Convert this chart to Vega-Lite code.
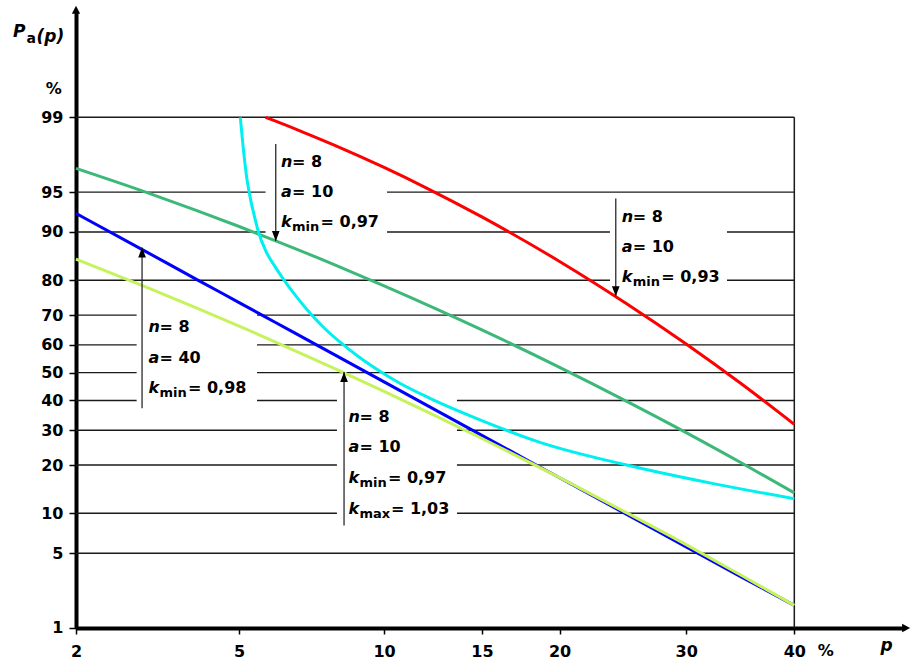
{
  "$schema": "https://vega.github.io/schema/vega-lite/v6.json",
  "width": 829,
  "height": 616,
  "autosize": "none",
  "padding": {"left": 76, "top": 12, "right": 6, "bottom": 32},
  "background": "white",
  "config": {
    "view": {"stroke": null},
    "font": "DejaVu Sans",
    "axis": {
      "title": null,
      "grid": false,
      "domainColor": "black",
      "domainWidth": 4,
      "domainCap": "butt",
      "tickColor": "black",
      "tickWidth": 1.5,
      "labelFont": "DejaVu Sans",
      "labelFontSize": 16,
      "labelFontWeight": "bold",
      "labelColor": "black",
      "labelFlush": false,
      "labelOverlap": false,
      "zindex": 1
    }
  },
  "data": {
    "values": [
      {"k": "g", "P": 99, "p": 2, "p2": 40},
      {"k": "g", "P": 95, "p": 2, "p2": 5.72},
      {"k": "g", "P": 95, "p": 10.13, "p2": 40},
      {"k": "g", "P": 90, "p": 2, "p2": 5.72},
      {"k": "g", "P": 90, "p": 10.13, "p2": 23.72},
      {"k": "g", "P": 90, "p": 33.65, "p2": 40},
      {"k": "g", "P": 80, "p": 2, "p2": 23.72},
      {"k": "g", "P": 80, "p": 33.65, "p2": 40},
      {"k": "g", "P": 70, "p": 2, "p2": 2.86},
      {"k": "g", "P": 70, "p": 5.48, "p2": 40},
      {"k": "g", "P": 60, "p": 2, "p2": 2.86},
      {"k": "g", "P": 60, "p": 5.48, "p2": 40},
      {"k": "g", "P": 50, "p": 2, "p2": 2.86},
      {"k": "g", "P": 50, "p": 5.48, "p2": 40},
      {"k": "g", "P": 40, "p": 2, "p2": 2.86},
      {"k": "g", "P": 40, "p": 5.48, "p2": 8.08},
      {"k": "g", "P": 40, "p": 13.59, "p2": 40},
      {"k": "g", "P": 30, "p": 2, "p2": 8.08},
      {"k": "g", "P": 30, "p": 13.59, "p2": 40},
      {"k": "g", "P": 20, "p": 2, "p2": 8.08},
      {"k": "g", "P": 20, "p": 13.59, "p2": 40},
      {"k": "g", "P": 10, "p": 2, "p2": 8.08},
      {"k": "g", "P": 10, "p": 13.59, "p2": 40},
      {"k": "g", "P": 5, "p": 2, "p2": 40},
      {"k": "b", "p": 40, "P": 1, "P2": 99},

      {"k": "c", "s": "red", "p": 5.72, "P": 99},
      {"k": "c", "s": "red", "p": 6, "P": 98.91},
      {"k": "c", "s": "red", "p": 7, "P": 98.53},
      {"k": "c", "s": "red", "p": 8, "P": 98.08},
      {"k": "c", "s": "red", "p": 10, "P": 96.92},
      {"k": "c", "s": "red", "p": 12, "P": 95.37},
      {"k": "c", "s": "red", "p": 15, "P": 92.2},
      {"k": "c", "s": "red", "p": 20, "P": 84.45},
      {"k": "c", "s": "red", "p": 25, "P": 73.57},
      {"k": "c", "s": "red", "p": 30, "P": 60.29},
      {"k": "c", "s": "red", "p": 35, "P": 45.86},
      {"k": "c", "s": "red", "p": 40, "P": 31.86},

      {"k": "c", "s": "green", "p": 2, "P": 96.86},
      {"k": "c", "s": "green", "p": 3, "P": 95.02},
      {"k": "c", "s": "green", "p": 4, "P": 93.01},
      {"k": "c", "s": "green", "p": 5, "P": 90.85},
      {"k": "c", "s": "green", "p": 6, "P": 88.56},
      {"k": "c", "s": "green", "p": 8, "P": 83.7},
      {"k": "c", "s": "green", "p": 10, "P": 78.54},
      {"k": "c", "s": "green", "p": 15, "P": 65.15},
      {"k": "c", "s": "green", "p": 20, "P": 51.93},
      {"k": "c", "s": "green", "p": 25, "P": 39.78},
      {"k": "c", "s": "green", "p": 30, "P": 29.25},
      {"k": "c", "s": "green", "p": 35, "P": 20.51},
      {"k": "c", "s": "green", "p": 40, "P": 13.67},

      {"k": "c", "s": "cyan", "p": 5.03, "P": 99},
      {"k": "c", "s": "cyan", "p": 5.1, "P": 98.09},
      {"k": "c", "s": "cyan", "p": 5.19, "P": 96.41},
      {"k": "c", "s": "cyan", "p": 5.29, "P": 94.51},
      {"k": "c", "s": "cyan", "p": 5.4, "P": 92.44},
      {"k": "c", "s": "cyan", "p": 5.52, "P": 90},
      {"k": "c", "s": "cyan", "p": 5.73, "P": 86.59},
      {"k": "c", "s": "cyan", "p": 5.97, "P": 83.63},
      {"k": "c", "s": "cyan", "p": 6.24, "P": 80.41},
      {"k": "c", "s": "cyan", "p": 6.65, "P": 75.7},
      {"k": "c", "s": "cyan", "p": 7.12, "P": 70.6},
      {"k": "c", "s": "cyan", "p": 7.64, "P": 65.55},
      {"k": "c", "s": "cyan", "p": 8.2, "P": 60.92},
      {"k": "c", "s": "cyan", "p": 8.98, "P": 55.41},
      {"k": "c", "s": "cyan", "p": 9.82, "P": 50.51},
      {"k": "c", "s": "cyan", "p": 10.71, "P": 46.15},
      {"k": "c", "s": "cyan", "p": 12.17, "P": 40.77},
      {"k": "c", "s": "cyan", "p": 14.89, "P": 33.38},
      {"k": "c", "s": "cyan", "p": 18.65, "P": 26.28},
      {"k": "c", "s": "cyan", "p": 25.03, "P": 20},
      {"k": "c", "s": "cyan", "p": 32.41, "P": 15.6},
      {"k": "c", "s": "cyan", "p": 40, "P": 12.55},

      {"k": "c", "s": "blue", "p": 2, "P": 92.66},
      {"k": "c", "s": "blue", "p": 3, "P": 86.59},
      {"k": "c", "s": "blue", "p": 4, "P": 80.18},
      {"k": "c", "s": "blue", "p": 5, "P": 73.84},
      {"k": "c", "s": "blue", "p": 6, "P": 67.71},
      {"k": "c", "s": "blue", "p": 8, "P": 56.45},
      {"k": "c", "s": "blue", "p": 10, "P": 46.66},
      {"k": "c", "s": "blue", "p": 15, "P": 28.4},
      {"k": "c", "s": "blue", "p": 20, "P": 16.92},
      {"k": "c", "s": "blue", "p": 25, "P": 9.87},
      {"k": "c", "s": "blue", "p": 30, "P": 5.62},
      {"k": "c", "s": "blue", "p": 35, "P": 3.12},
      {"k": "c", "s": "blue", "p": 40, "P": 1.7},

      {"k": "c", "s": "lime", "p": 2, "P": 84.94},
      {"k": "c", "s": "lime", "p": 3, "P": 78.33},
      {"k": "c", "s": "lime", "p": 4, "P": 72.15},
      {"k": "c", "s": "lime", "p": 5, "P": 66.42},
      {"k": "c", "s": "lime", "p": 6, "P": 61.06},
      {"k": "c", "s": "lime", "p": 8, "P": 51.49},
      {"k": "c", "s": "lime", "p": 10, "P": 43.23},
      {"k": "c", "s": "lime", "p": 15, "P": 27.43},
      {"k": "c", "s": "lime", "p": 20, "P": 16.94},
      {"k": "c", "s": "lime", "p": 25, "P": 10.12},
      {"k": "c", "s": "lime", "p": 30, "P": 5.86},
      {"k": "c", "s": "lime", "p": 35, "P": 3.23},
      {"k": "c", "s": "lime", "p": 40, "P": 1.7},

      {"k": "a", "p": 6.02, "P": 88.46, "P2": 98.14, "d": "dn"},
      {"k": "a", "p": 24.17, "P": 75.7, "P2": 94.38, "d": "dn"},
      {"k": "a", "p": 2.95, "P": 87.29, "P2": 37.27, "d": "up"},
      {"k": "a", "p": 8.35, "P": 50.26, "P2": 8.2, "d": "up"},
      {"k": "h", "p": 2, "P": 99.95, "d": "yax"},
      {"k": "h", "p": 50.9, "P": 1, "d": "xax"},

      {"k": "n", "p": 6.18, "P": 96.97, "v": "n", "sub": "", "rest": "= 8", "t": "s"},
      {"k": "n", "p": 6.18, "P": 94.54, "v": "a", "sub": "", "rest": "= 10", "t": "s"},
      {"k": "n", "p": 6.18, "P": 90.8, "v": "k", "sub": "min", "rest": "= 0,97", "t": "min"},
      {"k": "n", "p": 24.64, "P": 91.53, "v": "n", "sub": "", "rest": "= 8", "t": "s"},
      {"k": "n", "p": 24.64, "P": 86.45, "v": "a", "sub": "", "rest": "= 10", "t": "s"},
      {"k": "n", "p": 24.64, "P": 79.59, "v": "k", "sub": "min", "rest": "= 0,93", "t": "min"},
      {"k": "n", "p": 3.06, "P": 64.37, "v": "n", "sub": "", "rest": "= 8", "t": "s"},
      {"k": "n", "p": 3.06, "P": 53.6, "v": "a", "sub": "", "rest": "= 40", "t": "s"},
      {"k": "n", "p": 3.06, "P": 42.55, "v": "k", "sub": "min", "rest": "= 0,98", "t": "min"},
      {"k": "n", "p": 8.52, "P": 32.65, "v": "n", "sub": "", "rest": "= 8", "t": "s"},
      {"k": "n", "p": 8.52, "P": 23.4, "v": "a", "sub": "", "rest": "= 10", "t": "s"},
      {"k": "n", "p": 8.52, "P": 15.66, "v": "k", "sub": "min", "rest": "= 0,97", "t": "min"},
      {"k": "n", "p": 8.52, "P": 9.94, "v": "k", "sub": "max", "rest": "= 1,03", "t": "max"},

      {"k": "m", "id": "xpct", "p": 43.08, "P": 1, "t": "%"},
      {"k": "m", "id": "xp", "p": 49.13, "P": 1, "t": "p"},
      {"k": "m", "id": "ypct", "p": 2, "P": 99.44, "t": "%"},
      {"k": "m", "id": "P", "p": 2, "P": 99.8876, "t": "P"},
      {"k": "m", "id": "a", "p": 2, "P": 99.8876, "t": "a"},
      {"k": "m", "id": "pp", "p": 2, "P": 99.8876, "t": "(p)"}
    ]
  },
  "transform": [
    {"calculate": "quantileNormal(datum.p / 100)", "as": "zx"},
    {"calculate": "quantileNormal(datum.P / 100)", "as": "zy"},
    {"calculate": "quantileNormal(datum.p2 / 100)", "as": "zx2"},
    {"calculate": "quantileNormal(datum.P2 / 100)", "as": "zy2"}
  ],
  "encoding": {
    "x": {
      "field": "zx",
      "type": "quantitative",
      "scale": {"domain": [-2.05375, 0.0241], "nice": false, "zero": false},
      "axis": {
        "values": [-2.053749, -1.644854, -1.281552, -1.036433, -0.841621, -0.524401, -0.253347],
        "labelExpr": "format(cumulativeNormal(datum.value) * 100, '.0f')",
        "tickSize": 6,
        "labelPadding": 9
      }
    },
    "y": {
      "field": "zy",
      "type": "quantitative",
      "scale": {"domain": [-2.32635, 3.28568], "nice": false, "zero": false},
      "axis": {
        "values": [-2.326348, -1.644854, -1.281552, -0.841621, -0.524401, -0.253347, 0, 0.253347, 0.524401, 0.841621, 1.281552, 1.644854, 2.326348],
        "labelExpr": "format(cumulativeNormal(datum.value) * 100, '.0f')",
        "tickSize": 7,
        "labelPadding": 6
      }
    }
  },
  "layer": [
    {
      "transform": [{"filter": "datum.k == 'g'"}],
      "mark": {"type": "rule", "color": "#1a1a1a", "strokeWidth": 1.4},
      "encoding": {"x2": {"field": "zx2"}}
    },
    {
      "transform": [{"filter": "datum.k == 'b'"}],
      "mark": {"type": "rule", "color": "#1a1a1a", "strokeWidth": 1.5},
      "encoding": {"y2": {"field": "zy2"}}
    },
    {
      "transform": [{"filter": "datum.k == 'c'"}],
      "mark": {"type": "line", "strokeWidth": 3, "interpolate": "monotone"},
      "encoding": {
        "color": {
          "field": "s",
          "type": "nominal",
          "scale": {
            "domain": ["red", "green", "cyan", "blue", "lime"],
            "range": ["#ff0000", "#3cb878", "#00f0f0", "#0000ff", "#c6f25c"]
          },
          "legend": null
        }
      }
    },
    {
      "transform": [{"filter": "datum.k == 'a'"}],
      "mark": {"type": "rule", "color": "#2a2a2a", "strokeWidth": 1.3},
      "encoding": {"y2": {"field": "zy2"}}
    },
    {
      "transform": [{"filter": "datum.k == 'a' || datum.k == 'h'"}],
      "mark": {"type": "point", "filled": true, "size": 256, "opacity": 1, "color": "black", "strokeWidth": 0},
      "encoding": {
        "shape": {
          "field": "d",
          "type": "nominal",
          "scale": {
            "domain": ["dn", "up", "yax", "xax"],
            "range": [
              "M0,0L-0.48,-1.25L0.48,-1.25Z",
              "M0,0L-0.48,1.25L0.48,1.25Z",
              "M0,-0.72L0.52,0.28L-0.52,0.28Z",
              "M0.72,0L-0.28,0.52L-0.28,-0.52Z"
            ]
          },
          "legend": null
        }
      }
    },
    {
      "transform": [{"filter": "datum.k == 'n'"}],
      "mark": {"type": "text", "align": "left", "baseline": "alphabetic", "fontSize": 16, "fontWeight": "bold", "fontStyle": "italic", "color": "black"},
      "encoding": {"text": {"field": "v"}}
    },
    {
      "transform": [{"filter": "datum.k == 'n' && datum.sub != ''"}],
      "mark": {"type": "text", "align": "left", "baseline": "alphabetic", "fontSize": 13, "fontWeight": "bold", "color": "black", "dx": 11, "dy": 4},
      "encoding": {"text": {"field": "sub"}}
    },
    {
      "transform": [{"filter": "datum.k == 'n' && datum.t == 's'"}],
      "mark": {"type": "text", "align": "left", "baseline": "alphabetic", "fontSize": 16, "fontWeight": "bold", "color": "black", "dx": 11},
      "encoding": {"text": {"field": "rest"}}
    },
    {
      "transform": [{"filter": "datum.k == 'n' && datum.t == 'min'"}],
      "mark": {"type": "text", "align": "left", "baseline": "alphabetic", "fontSize": 16, "fontWeight": "bold", "color": "black", "dx": 39.5},
      "encoding": {"text": {"field": "rest"}}
    },
    {
      "transform": [{"filter": "datum.k == 'n' && datum.t == 'max'"}],
      "mark": {"type": "text", "align": "left", "baseline": "alphabetic", "fontSize": 16, "fontWeight": "bold", "color": "black", "dx": 42.5},
      "encoding": {"text": {"field": "rest"}}
    },
    {
      "transform": [{"filter": "datum.id == 'xpct'"}],
      "mark": {"type": "text", "align": "center", "baseline": "alphabetic", "fontSize": 16, "fontWeight": "bold", "color": "black", "dy": 27.7},
      "encoding": {"text": {"field": "t"}}
    },
    {
      "transform": [{"filter": "datum.id == 'xp'"}],
      "mark": {"type": "text", "align": "center", "baseline": "alphabetic", "fontSize": 17, "fontWeight": "bold", "fontStyle": "italic", "color": "black", "dy": 23.2},
      "encoding": {"text": {"field": "t"}}
    },
    {
      "transform": [{"filter": "datum.id == 'ypct'"}],
      "mark": {"type": "text", "align": "right", "baseline": "alphabetic", "fontSize": 16, "fontWeight": "bold", "color": "black", "dx": -14.3},
      "encoding": {"text": {"field": "t"}}
    },
    {
      "transform": [{"filter": "datum.id == 'P'"}],
      "mark": {"type": "text", "align": "left", "baseline": "alphabetic", "fontSize": 17, "fontWeight": "bold", "fontStyle": "italic", "color": "black", "dx": -63},
      "encoding": {"text": {"field": "t"}}
    },
    {
      "transform": [{"filter": "datum.id == 'a'"}],
      "mark": {"type": "text", "align": "left", "baseline": "alphabetic", "fontSize": 14, "fontWeight": "bold", "color": "black", "dx": -49.5, "dy": 6},
      "encoding": {"text": {"field": "t"}}
    },
    {
      "transform": [{"filter": "datum.id == 'pp'"}],
      "mark": {"type": "text", "align": "left", "baseline": "alphabetic", "fontSize": 17, "fontWeight": "bold", "fontStyle": "italic", "color": "black", "dx": -39.5, "dy": 4.5},
      "encoding": {"text": {"field": "t"}}
    }
  ]
}
